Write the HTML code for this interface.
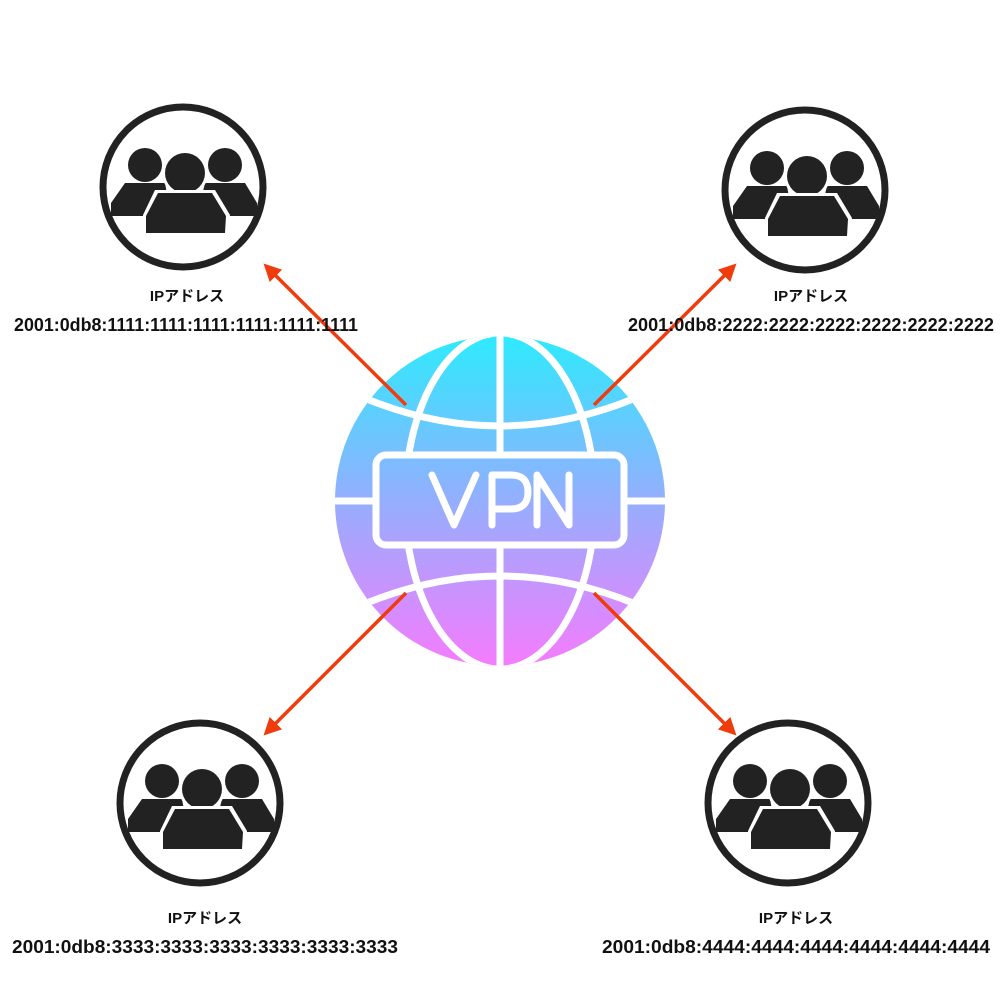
<!DOCTYPE html>
<html><head><meta charset="utf-8"><style>
html,body{margin:0;padding:0;background:#fff;}
svg{display:block;}
text{font-family:"Liberation Sans","Noto Sans CJK JP",sans-serif;fill:#111;font-weight:bold;}
</style></head><body>
<svg width="1000" height="1000" viewBox="0 0 1000 1000" xmlns="http://www.w3.org/2000/svg">
<defs>
<linearGradient id="g" gradientUnits="userSpaceOnUse" x1="0" y1="336" x2="0" y2="666">
<stop offset="0" stop-color="#2EEAFE"/>
<stop offset="0.5" stop-color="#95AEFE"/>
<stop offset="1" stop-color="#F57CFE"/>
</linearGradient>
<g id="ppl">
<circle cx="0" cy="0" r="80" fill="#fff" stroke="#222" stroke-width="7"/>
<circle cx="-38" cy="-22" r="17" fill="#222"/>
<circle cx="42" cy="-22" r="17" fill="#222"/>
<path d="M-58,-4 L-18,-4 L-12,29 L-72,29 L-72,16 Z" fill="#222"/>
<path d="M62,-4 L22,-4 L14,29 L74,29 L74,16 Z" fill="#222"/>
<circle cx="2" cy="-14" r="23" fill="#fff"/>
<circle cx="2" cy="-14" r="20" fill="#222"/>
<path d="M-28,3 L32,3 L47,28 L45,49 L-40,49 L-40,28 Z" fill="#fff"/>
<path d="M-25,6 L29,6 L43,29 L42,46 L-37,46 L-37,29 Z" fill="#222"/>
</g>
<marker id="ah" viewBox="0 0 10 10" refX="8" refY="5" markerWidth="5" markerHeight="5" orient="auto"><path d="M0,0 L10,5 L0,10 Z" fill="#F03C0C"/></marker>
<clipPath id="gc"><circle cx="500" cy="501" r="165"/></clipPath>
</defs>

<circle cx="500" cy="501" r="165" fill="url(#g)"/>
<g clip-path="url(#gc)" stroke="#fff" stroke-width="7" fill="none">
<line x1="500" y1="330" x2="500" y2="670"/>
<ellipse cx="500" cy="501" rx="95" ry="168"/>
<line x1="330" y1="501" x2="670" y2="501"/>
<path d="M330,382 Q500,470 670,382"/>
<path d="M330,620 Q500,532 670,620"/>
</g>
<rect x="376" y="455" width="248" height="90" rx="10" fill="url(#g)" stroke="#fff" stroke-width="7"/>
<g stroke="#fff" stroke-width="7" fill="none" stroke-linecap="round" stroke-linejoin="round">
<path d="M432,475 L454,525 L476,475"/>
<path d="M492,525 L492,475 L511,475 Q528,475 528,492 Q528,509 511,509 L492,509"/>
<path d="M537,525 L537,475 L569,525 L569,475"/>
</g>

<g stroke="#F03C0C" stroke-width="3.5" marker-end="url(#ah)">
<line x1="406" y1="405" x2="266" y2="266"/>
<line x1="594" y1="405" x2="734" y2="266"/>
<line x1="406" y1="593" x2="266" y2="733"/>
<line x1="594" y1="593" x2="734" y2="733"/>
</g>

<use href="#ppl" x="183" y="187"/>
<use href="#ppl" x="805" y="190"/>
<use href="#ppl" x="200" y="803"/>
<use href="#ppl" x="788" y="803"/>

<g text-anchor="middle">
<text x="187" y="301" font-size="15">IPアドレス</text>
<text x="186" y="331" font-size="18" textLength="344" lengthAdjust="spacingAndGlyphs">2001:0db8:1111:1111:1111:1111:1111:1111</text>
<text x="811" y="301" font-size="15">IPアドレス</text>
<text x="811" y="331" font-size="18" textLength="366" lengthAdjust="spacingAndGlyphs">2001:0db8:2222:2222:2222:2222:2222:2222</text>
<text x="205" y="923" font-size="15">IPアドレス</text>
<text x="205" y="953" font-size="18" textLength="386" lengthAdjust="spacingAndGlyphs">2001:0db8:3333:3333:3333:3333:3333:3333</text>
<text x="796" y="923" font-size="15">IPアドレス</text>
<text x="796" y="953" font-size="18" textLength="388" lengthAdjust="spacingAndGlyphs">2001:0db8:4444:4444:4444:4444:4444:4444</text>
</g>
</svg>
</body></html>
